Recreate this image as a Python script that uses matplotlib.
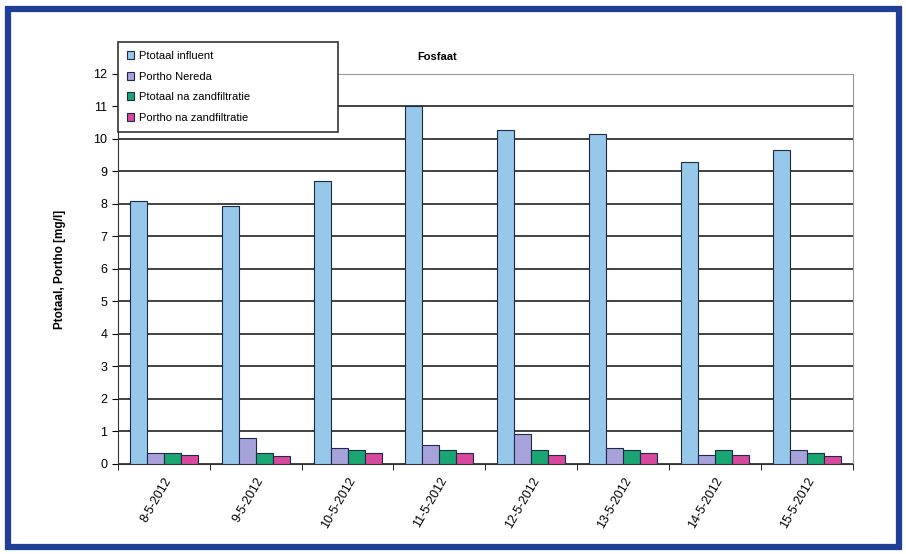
import matplotlib
matplotlib.use('Agg')
import matplotlib.pyplot as plt
from matplotlib.patches import Rectangle
import numpy as np

datums = ['8-5-2012', '9-5-2012', '10-5-2012', '11-5-2012',
          '12-5-2012', '13-5-2012', '14-5-2012', '15-5-2012']
ptotaal_influent = [8.1, 7.95, 8.72, 11.0, 10.27, 10.15, 9.3, 9.66]
portho_nereda = [0.34, 0.8, 0.5, 0.58, 0.92, 0.5, 0.28, 0.42]
ptotaal_zandfiltratie = [0.34, 0.34, 0.42, 0.42, 0.42, 0.42, 0.42, 0.34]
portho_zandfiltratie = [0.28, 0.25, 0.34, 0.34, 0.27, 0.34, 0.27, 0.23]

series = [ptotaal_influent, portho_nereda, ptotaal_zandfiltratie, portho_zandfiltratie]
namen = ['Ptotaal influent', 'Portho Nereda', 'Ptotaal na zandfiltratie', 'Portho na zandfiltratie']
kleuren = ['#97C8EA', '#A8A2DA', '#19A673', '#D8489C']

plt.rcParams['font.family'] = ['Liberation Sans', 'DejaVu Sans']

fig = plt.figure(figsize=(9.06, 5.54), dpi=100)
fig.patches.append(Rectangle((0.009, 0.012), 0.983, 0.972, transform=fig.transFigure,
                             fill=False, edgecolor='#1F3F96', linewidth=4.5))

ax = fig.add_axes([0.130, 0.1625, 0.8115, 0.704])
x = np.arange(len(datums))
w = 0.185
for i, (vals, naam, kl) in enumerate(zip(series, namen, kleuren)):
    ax.bar(x + (i - 1.5) * w, vals, w, color=kl, edgecolor='#1c2a4a',
           linewidth=0.8, label=naam, zorder=3)

ax.set_xlim(-0.5, len(datums) - 0.5)
ax.set_ylim(0, 12)
ax.set_yticks(range(0, 13))
ax.yaxis.grid(True, color='#222222', linewidth=1.2, zorder=0)
ax.set_xticks(x)
ax.set_xticklabels(datums, rotation=60, ha='right', rotation_mode='anchor', fontsize=9)
ax.set_xticks(np.arange(-0.5, len(datums)), minor=True)
ax.tick_params(axis='x', which='major', length=0, pad=8)
ax.tick_params(axis='x', which='minor', length=4, direction='out')
ax.tick_params(axis='y', labelsize=9, length=4)
for s in ['top', 'right']:
    ax.spines[s].set_color('#999999')
ax.spines['left'].set_color('#333333')
ax.spines['bottom'].set_color('#333333')

ax.set_ylabel('Ptotaal, Portho [mg/l]', fontsize=8.5, fontweight='bold', labelpad=20)
fig.text(0.482, 0.897, 'Fosfaat', fontsize=8, fontweight='bold', ha='center', va='center')

leg = fig.legend(loc='upper left', bbox_to_anchor=(0.130, 0.758, 0.243, 0.166),
                 mode='expand', fontsize=8,
                 frameon=True, fancybox=False, edgecolor='#333333', framealpha=1,
                 handlelength=0.7, handleheight=0.7, borderpad=0.8, labelspacing=0.95,
                 borderaxespad=0, handletextpad=0.4)
leg.get_frame().set_linewidth(1.2)
leg.set_zorder(5)

fig.savefig('out.png', dpi=100)
